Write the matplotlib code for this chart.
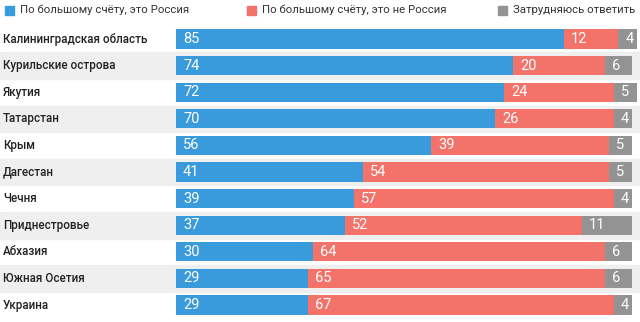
#!/usr/bin/env python3

import matplotlib
matplotlib.use('Agg')
import matplotlib.pyplot as plt
from matplotlib.patches import Rectangle

regions = ['Калининградская область', 'Курильские острова', 'Якутия',
           'Татарстан', 'Крым', 'Дагестан', 'Чечня', 'Приднестровье',
           'Абхазия', 'Южная Осетия', 'Украина']
russia = [85, 74, 72, 70, 56, 41, 39, 37, 30, 29, 29]
not_russia = [12, 20, 24, 26, 39, 54, 57, 52, 64, 65, 67]
unsure = [4, 6, 5, 4, 5, 5, 4, 11, 6, 6, 4]

series_names = ['По большому счёту, это Россия',
                'По большому счёту, это не Россия',
                'Затрудняюсь ответить']
colors = ['#3a9bdc', '#f3736a', '#939393']

W, H = 640, 322
X0, X1 = 176, 632          # pixel span of 0..100 %
ROW0, ROWSTEP = 39, 26.6   # pixel centre of first row, row spacing

plt.rcParams['font.family'] = ['Roboto', 'DejaVu Sans']

fig = plt.figure(figsize=(W / 100, H / 100), dpi=100)
ax = fig.add_axes([0, 0, 1, 1])
ppu = (X1 - X0) / 100
ax.set_xlim(-X0 / ppu, (W - X0) / ppu)
ax.set_ylim((H - ROW0) / ROWSTEP, -ROW0 / ROWSTEP)
ax.axis('off')

# alternating light bands
for i in range(len(regions)):
    if i % 2 == 1:
        ax.axhspan(i - 0.5, i + 0.5, color='#efefef', zorder=0)

lefts = [0] * len(regions)
for vals, col in zip([russia, not_russia, unsure], colors):
    ax.barh(range(len(regions)), vals, left=lefts, height=0.72,
            color=col, zorder=2)
    for i, (v, l) in enumerate(zip(vals, lefts)):
        ax.text(l + 7 / ppu, i, str(v), color='white', fontsize=10.5,
                va='center', ha='left', zorder=3)
    lefts = [a + b for a, b in zip(lefts, vals)]

for i, name in enumerate(regions):
    ax.text(-X0 / ppu + 3 / ppu, i, name, fontsize=8.4, color='#222222',
            va='center', ha='left', fontweight='medium')

# legend along the top
leg_x = [5, 247, 498]
for x, col, name in zip(leg_x, colors, series_names):
    fig.patches.append(Rectangle((x / W, 1 - 14.5 / H), 9 / W, 9 / H,
                                 transform=fig.transFigure, color=col))
    fig.text((x + 15) / W, 1 - 10 / H, name, fontsize=8.2,
             color='#333333', va='center', ha='left')

fig.savefig('out.png', dpi=100)
